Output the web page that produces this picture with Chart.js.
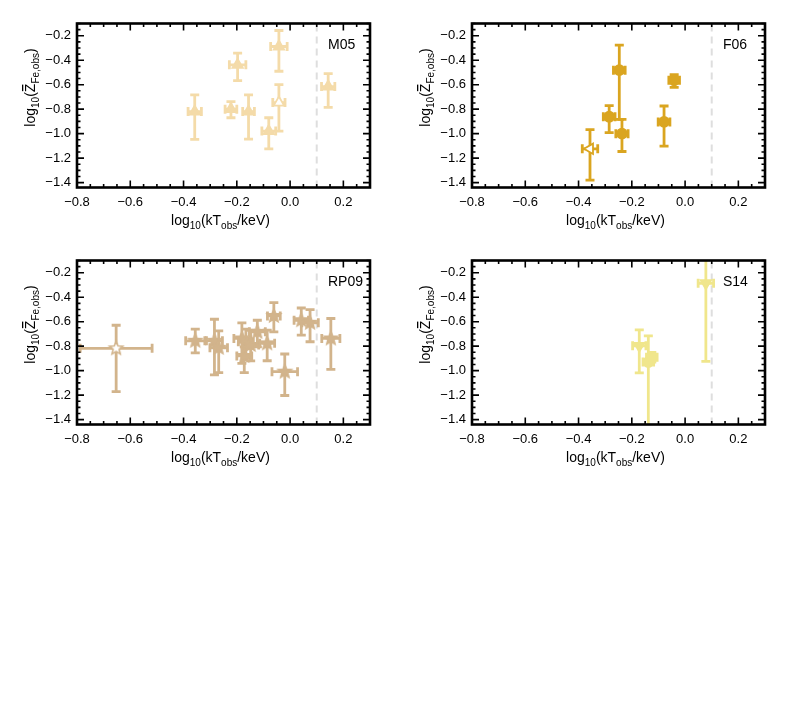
<!DOCTYPE html>
<html>
<head>
<meta charset="utf-8">
<script src="https://cdn.jsdelivr.net/npm/chart.js@4.4.1/dist/chart.umd.min.js"></script>
<style>
  body { margin: 0; background: #fff; width: 789px; height: 711px; position: relative; overflow: hidden; }
  canvas { position: absolute; }
</style>
</head>
<body>
<canvas id="p1" width="394" height="237" style="left:0;top:0"></canvas>
<canvas id="p2" width="394" height="237" style="left:395px;top:0"></canvas>
<canvas id="p3" width="394" height="237" style="left:0;top:237px"></canvas>
<canvas id="p4" width="394" height="237" style="left:395px;top:237px"></canvas>
<script>
// axis ticks (shared by all panels)
const xTicks = [-0.8, -0.6, -0.4, -0.2, 0.0, 0.2];
const yTicks = [-1.4, -1.2, -1.0, -0.8, -0.6, -0.4, -0.2];
const xRange = [-0.8, 0.3];
const yRange = [-1.44, -0.1];
const tempCut = 0.1;

// M05
const m05X    = [-0.358, -0.222, -0.197, -0.156, -0.042, -0.080, -0.042, 0.143];
const m05Y    = [-0.820, -0.800, -0.438, -0.820, -0.288, -0.979, -0.746, -0.615];
const m05YLo  = [-1.047, -0.870, -0.566, -1.045, -0.490, -1.124, -0.980, -0.785];
const m05YHi  = [-0.684, -0.738, -0.342, -0.684, -0.157, -0.870, -0.600, -0.510];
const m05XErr = [0.025, 0.022, 0.031, 0.022, 0.031, 0.026, 0.023, 0.025];
const m05Open = [false, false, false, false, false, false, true, false];

// F06
const f06X    = [-0.247, -0.285, -0.237, -0.079, -0.041, -0.357];
const f06Y    = [-0.481, -0.862, -1.000, -0.904, -0.564, -1.124];
const f06YLo  = [-0.884, -0.991, -1.146, -1.102, -0.622, -1.380];
const f06YHi  = [-0.277, -0.771, -0.884, -0.774, -0.517, -0.967];
const f06XErr = [0.022, 0.022, 0.023, 0.022, 0.020, 0.029];
const f06Open = [false, false, false, false, false, true];

// RP09
const rp09X    = [-0.653, -0.356, -0.284, -0.268, -0.181, -0.166, -0.172, -0.148, -0.123, -0.086, -0.061, -0.020, 0.042, 0.075, 0.153];
const rp09Y    = [-0.818, -0.756, -0.756, -0.813, -0.737, -0.764, -0.880, -0.790, -0.683, -0.777, -0.553, -1.008, -0.588, -0.609, -0.737];
const rp09YLo  = [-1.171, -0.854, -1.035, -1.016, -0.940, -0.900, -1.016, -0.920, -0.805, -0.919, -0.683, -1.203, -0.710, -0.764, -0.989];
const rp09YHi  = [-0.629, -0.661, -0.580, -0.675, -0.610, -0.660, -0.805, -0.670, -0.588, -0.669, -0.444, -0.864, -0.488, -0.501, -0.574];
const rp09XErr = [0.135, 0.036, 0.030, 0.033, 0.030, 0.028, 0.028, 0.030, 0.030, 0.028, 0.024, 0.048, 0.027, 0.031, 0.034];
const rp09Open = [true, false, false, false, false, false, false, false, false, false, false, false, false, false, false];

// S14
const s14X    = [-0.172, -0.138, -0.125, 0.078];
const s14Y    = [-0.797, -0.930, -0.890, -0.286];
const s14YLo  = [-1.019, -1.700, -0.930, -0.925];
const s14YHi  = [-0.667, -0.716, -0.850, 0.050];
const s14XErr = [0.025, 0.020, 0.020, 0.029];
const s14Open = [false, false, false, false];

const FONT = '"Liberation Sans", Arial, Helvetica, sans-serif';

function fmt(v) {
    return v.toFixed(1).replace('-', '\u2212');
}

// filled / open five point star as a point style
function starImg(fill, stroke, r) {
    const c = document.createElement('canvas');
    const s = Math.ceil(2 * r + 4);
    c.width = s; c.height = s;
    const g = c.getContext('2d');
    g.beginPath();
    for (let i = 0; i < 10; i++) {
        const rr = i % 2 === 0 ? r : r * 0.45;
        const a = -Math.PI / 2 + i * Math.PI / 5;
        const px = s / 2 + rr * Math.cos(a), py = s / 2 + rr * Math.sin(a);
        if (i === 0) g.moveTo(px, py); else g.lineTo(px, py);
    }
    g.closePath();
    g.fillStyle = fill; g.fill();
    g.lineWidth = 1.6; g.strokeStyle = stroke; g.stroke();
    return c;
}

// draw text with sub-script parts, centered at (cx, baseline y)
function drawRich(ctx, parts, cx, y) {
    const big = '14px ' + FONT, small = '10px ' + FONT;
    let w = 0;
    parts.forEach(p => { ctx.font = p.sub ? small : big; p.w = ctx.measureText(p.t).width; w += p.w; });
    let x = cx - w / 2;
    ctx.textAlign = 'left';
    ctx.textBaseline = 'alphabetic';
    parts.forEach(p => {
        ctx.font = p.sub ? small : big;
        ctx.fillText(p.t, x, p.sub ? y + 4 : y);
        if (p.bar) {
            ctx.fillRect(x + 1, y - 13, p.w - 2, 1.3);
        }
        x += p.w;
    });
}

const panelPlugin = {
    id: 'panel',
    beforeDatasetsDraw(chart) {
        const o = chart.options.plugins.panel;
        const ctx = chart.ctx, a = chart.chartArea;
        const xs = chart.scales.x, ys = chart.scales.y;
        ctx.save();
        ctx.beginPath();
        ctx.rect(a.left, a.top, a.right - a.left, a.bottom - a.top);
        ctx.clip();
        // temperature cut
        ctx.strokeStyle = '#dedede';
        ctx.lineWidth = 2;
        ctx.setLineDash([7, 5]);
        const xc = xs.getPixelForValue(tempCut);
        ctx.beginPath();
        ctx.moveTo(xc, a.bottom); ctx.lineTo(xc, a.top);
        ctx.stroke();
        ctx.setLineDash([]);
        // error bars
        ctx.strokeStyle = o.color;
        ctx.lineWidth = 2.8;
        const cap = 4.5;
        o.xv.forEach((xv, i) => {
            const px = xs.getPixelForValue(xv), py = ys.getPixelForValue(o.yv[i]);
            const x0 = xs.getPixelForValue(xv - o.xErr[i]), x1 = xs.getPixelForValue(xv + o.xErr[i]);
            const y0 = ys.getPixelForValue(o.yLo[i]), y1 = ys.getPixelForValue(o.yHi[i]);
            ctx.beginPath();
            ctx.moveTo(px, y0); ctx.lineTo(px, y1);
            ctx.moveTo(px - cap, y0); ctx.lineTo(px + cap, y0);
            ctx.moveTo(px - cap, y1); ctx.lineTo(px + cap, y1);
            ctx.moveTo(x0, py); ctx.lineTo(x1, py);
            ctx.moveTo(x0, py - cap); ctx.lineTo(x0, py + cap);
            ctx.moveTo(x1, py - cap); ctx.lineTo(x1, py + cap);
            ctx.stroke();
        });
        ctx.restore();
    },
    afterDraw(chart) {
        const o = chart.options.plugins.panel;
        const ctx = chart.ctx, a = chart.chartArea;
        const xs = chart.scales.x, ys = chart.scales.y;
        ctx.save();
        ctx.strokeStyle = '#000';
        ctx.fillStyle = '#000';
        // minor and major tick marks, inward on all sides
        ctx.lineWidth = 1.6;
        ctx.beginPath();
        for (let k = 0; k <= 22; k++) {
            const v = xRange[0] + k * 0.05;
            const major = k % 4 === 0;
            const len = major ? 7 : 3.5;
            const px = xs.getPixelForValue(v);
            if (px < a.left - 0.5 || px > a.right + 0.5) continue;
            ctx.moveTo(px, a.bottom); ctx.lineTo(px, a.bottom - len);
            ctx.moveTo(px, a.top); ctx.lineTo(px, a.top + len);
        }
        for (let k = 0; k <= 26; k++) {
            const v = -1.4 + k * 0.05;
            const major = k % 4 === 0;
            const len = major ? 7 : 3.5;
            const py = ys.getPixelForValue(v);
            if (py < a.top - 0.5 || py > a.bottom + 0.5) continue;
            ctx.moveTo(a.left, py); ctx.lineTo(a.left + len, py);
            ctx.moveTo(a.right, py); ctx.lineTo(a.right - len, py);
        }
        ctx.stroke();
        // frame
        ctx.lineWidth = 2.6;
        ctx.strokeRect(a.left, a.top, a.right - a.left, a.bottom - a.top);
        // panel label
        ctx.font = '14px ' + FONT;
        ctx.textAlign = 'left';
        ctx.fillText(o.label, a.left + 251, a.top + 25);
        // axis titles
        drawRich(ctx, [{t: 'log'}, {t: '10', sub: true}, {t: '(kT'}, {t: 'obs', sub: true}, {t: '/keV)'}],
            (a.left + a.right) / 2 - 3, a.bottom + 37);
        ctx.translate(35, a.top + 64);
        ctx.rotate(-Math.PI / 2);
        drawRich(ctx, [{t: 'log'}, {t: '10', sub: true}, {t: '('}, {t: 'Z', bar: true}, {t: 'Fe,obs', sub: true}, {t: ')'}], 0, 0);
        ctx.restore();
    }
};

function makePanel(id, label, color, xv, yv, yLo, yHi, xErr, open, styles, rot) {
    const pts = xv.map((v, i) => ({x: v, y: yv[i]}));
    const fillStar = starImg(color, color, 7);
    const openStar = starImg('#fff', color, 7);
    return new Chart(document.getElementById(id), {
        type: 'scatter',
        data: {
            datasets: [{
                data: pts,
                pointStyle: styles.map((s, i) => s === 'star' ? (open[i] ? openStar : fillStar) : s),
                pointRotation: rot,
                pointRadius: styles.map(s => s === 'circle' ? 5 : 6),
                pointHoverRadius: styles.map(s => s === 'circle' ? 5 : 6),
                borderWidth: 1.8,
                borderColor: color,
                backgroundColor: open.map(f => f ? '#fff' : color)
            }]
        },
        options: {
            responsive: false,
            animation: false,
            layout: { padding: { left: 0, right: 24, top: 23.5, bottom: 0 } },
            plugins: {
                legend: { display: false },
                tooltip: { enabled: false },
                panel: { label: label, color: color, xv: xv, yv: yv, yLo: yLo, yHi: yHi, xErr: xErr }
            },
            scales: {
                x: {
                    type: 'linear', min: xRange[0], max: xRange[1],
                    afterBuildTicks: s => { s.ticks = xTicks.map(v => ({value: v})); },
                    afterFit: s => { s.height = 49.5; },
                    grid: { display: false, drawTicks: false },
                    border: { display: false },
                    ticks: { callback: fmt, padding: 7, maxRotation: 0, autoSkip: false, color: '#000', font: { family: FONT, size: 13 } }
                },
                y: {
                    type: 'linear', min: yRange[0], max: yRange[1],
                    afterBuildTicks: s => { s.ticks = yTicks.map(v => ({value: v})); },
                    afterFit: s => { s.width = 77; },
                    grid: { display: false, drawTicks: false },
                    border: { display: false },
                    ticks: { callback: fmt, padding: 6, autoSkip: false, color: '#000', font: { family: FONT, size: 13 } }
                }
            }
        },
        plugins: [panelPlugin]
    });
}

makePanel('p1', 'M05', '#F4DBA9', m05X, m05Y, m05YLo, m05YHi, m05XErr, m05Open,
    m05X.map(() => 'triangle'), m05X.map(() => 0));
makePanel('p2', 'F06', '#DAA520', f06X, f06Y, f06YLo, f06YHi, f06XErr, f06Open,
    ['circle', 'circle', 'circle', 'circle', 'circle', 'triangle'], [0, 0, 0, 0, 0, -90]);
makePanel('p3', 'RP09', '#D2B48C', rp09X, rp09Y, rp09YLo, rp09YHi, rp09XErr, rp09Open,
    rp09X.map(() => 'star'), rp09X.map(() => 0));
makePanel('p4', 'S14', '#F0E68C', s14X, s14Y, s14YLo, s14YHi, s14XErr, s14Open,
    ['triangle', 'circle', 'circle', 'triangle'], [180, 0, 0, 180]);
</script>
</body>
</html>
